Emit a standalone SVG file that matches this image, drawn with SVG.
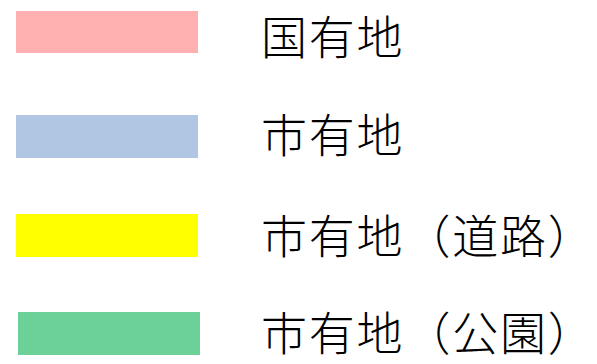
<svg xmlns="http://www.w3.org/2000/svg" width="597" height="364" viewBox="0 0 597 364">
<style>
text{font-family:"Noto Sans CJK JP","Noto Sans CJK SC",sans-serif;font-size:46px;fill:#000;font-weight:300;letter-spacing:1.8px}
</style>
<rect width="597" height="364" fill="#fff"/>
<g id="national"><rect x="16" y="11" width="182" height="42" fill="#FFB1B1"/><text x="261" y="54">国有地</text></g>
<g id="city"><rect x="16" y="115" width="182" height="43" fill="#B0C6E2"/><text x="261" y="152">市有地</text></g>
<g id="city-road"><rect x="16" y="214" width="182" height="43" fill="#FFFF00"/><text x="261" y="253">市有地（道路）</text></g>
<g id="city-park"><rect x="18" y="312" width="182" height="43" fill="#6BD199"/><text x="261" y="350">市有地（公園）</text></g>
</svg>
